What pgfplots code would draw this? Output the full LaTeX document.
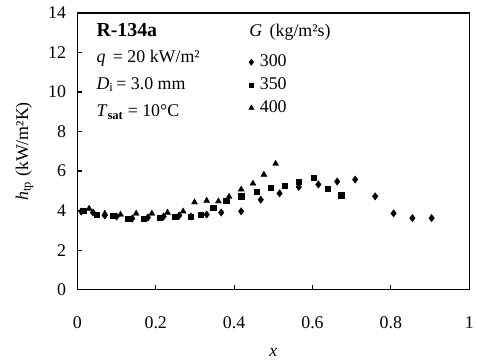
\documentclass[border=0pt]{standalone}
\usepackage{fontspec}
\setmainfont{Liberation Serif}
\usepackage{pgfplots}
\pgfplotsset{compat=1.18}
\newcommand{\fs}{\fontsize{18}{21}\selectfont}
\begin{document}
\begin{tikzpicture}
\begin{axis}[
  scale only axis, width=395pt, height=279pt,
  xmin=0, xmax=1, ymin=0, ymax=14,
  xtick={0,0.2,0.4,0.6,0.8,1}, ytick={0,2,...,14},
  xticklabels={0,0.2,0.4,0.6,0.8,1},
  tick align=inside, xtick pos=bottom, ytick pos=left,
  major tick length=5pt,
  axis line style={line width=1.3pt}, tick style={line width=1.2pt,black},
  /pgf/number format/assume math mode=true,
  tick label style={font=\fs},
  xticklabel style={yshift=-24pt},
  yticklabel style={xshift=-8pt},
  label style={font=\fs},
  xlabel={\textit{x}}, ylabel={\textit{h}\textsubscript{tp} (kW/m²K)},
  xlabel style={yshift=-12pt},
  ylabel style={yshift=8pt},
  legend style={draw=none, fill=none, at={(rel axis cs:0.437,0.853)}, anchor=north west,
    font=\fs, row sep=6pt, inner sep=0pt,
    nodes={inner sep=1pt, text height=12pt, text depth=3pt},
    /tikz/every odd column/.append style={column sep=5pt},
    legend cell align=left},
  legend image code/.code={\draw[mark repeat=2,mark phase=2,#1] plot coordinates {(0cm,0cm)(0.16cm,0cm)(0.32cm,0cm)};},
  legend image post style={scale=0.85},
  clip=false,
]
\addplot[only marks, mark=diamond*, mark size=3.7pt, black] coordinates {
(0.01,3.95)(0.04,3.9)(0.07,3.75)(0.10,3.7)(0.14,3.6)(0.18,3.65)(0.22,3.7)(0.26,3.75)(0.29,3.7)(0.33,3.8)(0.367,3.9)(0.418,3.96)(0.468,4.55)(0.516,4.87)(0.565,5.2)(0.615,5.32)(0.663,5.47)(0.709,5.57)(0.76,4.72)(0.807,3.86)(0.855,3.62)(0.904,3.62)};
\addlegendentry{300}
\addplot[only marks, mark=square*, mark size=2.7pt, black] coordinates {
(0.015,4.0)(0.05,3.8)(0.09,3.75)(0.13,3.6)(0.17,3.6)(0.21,3.65)(0.25,3.7)(0.29,3.7)(0.314,3.8)(0.347,4.15)(0.38,4.5)(0.418,4.72)(0.457,4.97)(0.494,5.17)(0.529,5.27)(0.565,5.47)(0.603,5.67)(0.638,5.12)(0.673,4.77)};
\addlegendentry{350}
\addplot[only marks, mark=triangle*, mark size=3.5pt, black] coordinates {
(0.03,4.1)(0.07,3.85)(0.11,3.8)(0.15,3.85)(0.19,3.85)(0.23,3.9)(0.27,3.96)(0.299,4.42)(0.33,4.5)(0.36,4.47)(0.387,4.7)(0.418,5.07)(0.448,5.37)(0.476,5.82)(0.506,6.37)};
\addlegendentry{400}
\node[anchor=base west, font=\fontsize{20}{24}\selectfont\bfseries] at (rel axis cs:0.04,0.914) {R-134a};
\node[anchor=base west, font=\fs] at (rel axis cs:0.43,0.914) {\textit{G}\, (kg/m²s)};
\node[anchor=base west, font=\fs] at (rel axis cs:0.04,0.82) {\textit{q}\, = 20 kW/m²};
\node[anchor=base west, font=\fs] at (rel axis cs:0.04,0.724) {\textit{D}\textsubscript{i}\,= 3.0 mm};
\node[anchor=base west, font=\fs] at (rel axis cs:0.04,0.624) {\textit{T}\textsubscript{\bfseries sat} = 10°C};
\path (rel axis cs:0,0) ++(-78pt,-72pt);
\path (rel axis cs:1,1) ++(4pt,13pt);
\end{axis}
\end{tikzpicture}
\end{document}
